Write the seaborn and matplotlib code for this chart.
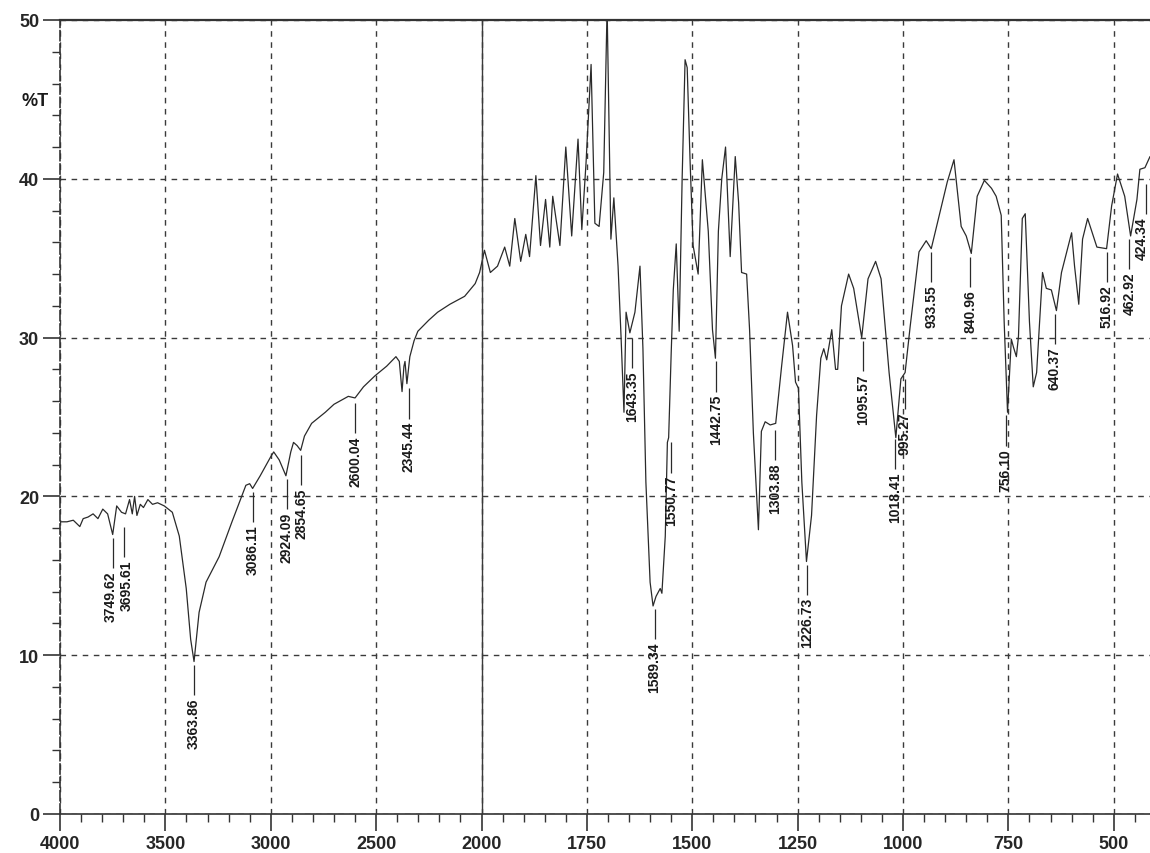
import numpy as np
import pandas as pd
import matplotlib
matplotlib.use("Agg")
import matplotlib.pyplot as plt
import seaborn as sns
from matplotlib import font_manager
from matplotlib.ticker import FixedLocator, MultipleLocator
from matplotlib.transforms import offset_copy

# IR spectrum, values
wavenumber = [4000, 3967, 3937, 3906, 3890, 3867, 3843, 3820, 3797, 3774,
              3750, 3731, 3708, 3689, 3670, 3657, 3646, 3635, 3619, 3604,
              3583, 3561, 3537, 3505, 3467, 3434, 3401, 3380, 3364, 3340,
              3307, 3245, 3184, 3118, 3100, 3086, 3050, 3000, 2986, 2960,
              2928, 2905, 2892, 2875, 2858, 2840, 2806, 2741, 2700, 2632,
              2600, 2560, 2505, 2450, 2406, 2390, 2377, 2368, 2363, 2354,
              2340, 2320, 2302, 2250, 2208, 2150, 2080, 2030, 2009, 1993,
              1979, 1962, 1945, 1933, 1921, 1907, 1895, 1886, 1871, 1860,
              1848, 1838, 1831, 1814, 1800, 1786, 1771, 1762, 1752, 1740,
              1731, 1721, 1710, 1702, 1693, 1686, 1676, 1669, 1662, 1657,
              1648, 1636, 1624, 1617, 1610, 1600, 1593, 1586, 1576, 1572,
              1564, 1559, 1556, 1550, 1545, 1538, 1531, 1524, 1517, 1512,
              1505, 1498, 1486, 1476, 1462, 1452, 1445, 1438, 1430, 1421,
              1410, 1398, 1390, 1383, 1371, 1364, 1355, 1343, 1336, 1327,
              1315, 1302, 1288, 1274, 1262, 1255, 1248, 1240, 1229, 1217,
              1205, 1195, 1188, 1181, 1169, 1160, 1155, 1146, 1129, 1117,
              1098, 1083, 1065, 1052, 1033, 1017, 1005, 995, 983, 962,
              945, 933, 914, 895, 879, 862, 850, 838, 824, 807,
              790, 779, 767, 760, 752, 743, 738, 731, 726, 717,
              710, 700, 691, 683, 669, 660, 648, 636, 624, 600,
              593, 583, 574, 562, 540, 517, 505, 491, 474, 460,
              445, 438, 426, 414]
transmittance = [18.4, 18.4, 18.5, 18.1, 18.6, 18.7, 18.9, 18.6, 19.2, 18.9,
                 17.6, 19.4, 19.0, 18.9, 19.8, 18.9, 20.0, 18.8, 19.5, 19.3,
                 19.8, 19.5, 19.6, 19.4, 19.0, 17.5, 14.2, 11.0, 9.6, 12.7,
                 14.6, 16.2, 18.4, 20.7, 20.8, 20.5, 21.3, 22.5, 22.8, 22.3,
                 21.3, 22.8, 23.4, 23.2, 22.9, 23.8, 24.6, 25.3, 25.8, 26.3,
                 26.2, 26.9, 27.6, 28.2, 28.8, 28.5, 26.6, 28.2, 28.5, 27.1,
                 28.8, 29.8, 30.4, 31.1, 31.6, 32.1, 32.6, 33.4, 34.1, 35.5,
                 34.1, 34.5, 35.7, 34.5, 37.5, 34.8, 36.5, 35.1, 40.2, 35.8,
                 38.7, 35.7, 38.9, 35.8, 42.0, 36.4, 42.5, 36.8, 41.0, 47.2,
                 37.2, 37.0, 40.4, 50.8, 36.2, 38.8, 34.5, 30.1, 25.3, 31.6,
                 30.3, 31.6, 34.5, 29.3, 20.9, 14.6, 13.1, 13.7, 14.2, 13.9,
                 17.5, 23.4, 23.7, 29.0, 33.0, 35.9, 30.4, 40.0, 47.5, 47.0,
                 41.0, 35.8, 34.0, 41.2, 36.7, 30.5, 28.7, 36.7, 40.0, 42.0,
                 35.1, 41.4, 38.5, 34.1, 34.0, 30.5, 24.0, 17.9, 24.1, 24.7,
                 24.5, 24.6, 28.2, 31.6, 29.5, 27.2, 26.8, 20.9, 15.9, 18.8,
                 25.1, 28.7, 29.3, 28.6, 30.5, 28.0, 28.0, 32.0, 34.0, 33.1,
                 30.0, 33.7, 34.8, 33.7, 27.8, 23.7, 27.4, 27.8, 30.7, 35.4,
                 36.1, 35.6, 37.7, 39.8, 41.2, 37.0, 36.4, 35.3, 38.9, 39.9,
                 39.4, 38.9, 37.7, 31.0, 25.3, 29.9, 29.4, 28.8, 30.1, 37.5,
                 37.8, 31.0, 26.9, 27.8, 34.1, 33.1, 33.0, 31.7, 34.1, 36.6,
                 34.5, 32.1, 36.2, 37.5, 35.7, 35.6, 38.3, 40.3, 38.9, 36.4,
                 38.7, 40.6, 40.7, 41.4]

peak_labels = ["3749.62", "3695.61", "3363.86", "3086.11", "2924.09", "2854.65",
               "2600.04", "2345.44", "1643.35", "1589.34", "1550.77", "1442.75",
               "1303.88", "1226.73", "1095.57", "1018.41", "995.27", "933.55",
               "840.96", "756.10", "640.37", "516.92", "462.92", "424.34"]
peak_T = [17.6, 18.3, 9.6, 20.5, 21.3, 22.8, 26.1, 27.0, 30.2, 13.1, 23.6, 28.7,
          24.4, 15.9, 30.0, 23.8, 27.6, 35.6, 35.3, 25.3, 31.7, 35.6, 36.4, 39.9]

x_major = [4000, 3500, 3000, 2500, 2000, 1750, 1500, 1250, 1000, 750, 500]

df = pd.DataFrame({"wn": wavenumber, "T": transmittance})

sns.set_theme(style="white")
names = {f.name for f in font_manager.fontManager.ttflist}
if "Liberation Sans Narrow" in names:
    family, tick_size, peak_size = "Liberation Sans Narrow", 15, 11
else:
    family, tick_size, peak_size = "Liberation Sans", 13, 10
plt.rcParams["font.family"] = [family, "DejaVu Sans"]
plt.rcParams["font.weight"] = "bold"


# chart scale doubles below 2000 cm-1
def forward(x):
    x = np.asarray(x, dtype=float)
    return np.where(x >= 2000, x, 2 * x - 2000)


def inverse(u):
    u = np.asarray(u, dtype=float)
    return np.where(u >= 2000, u, (u + 2000) / 2)


fig = plt.figure(figsize=(11.5, 8.54), dpi=100)
ax = fig.add_axes([60 / 1150, 39 / 854, 1090 / 1150, 794 / 854])

sns.lineplot(data=df, x="wn", y="T", ax=ax, color="#2a2a2a", lw=0.9,
             sort=False, estimator=None)

ax.set_xscale("function", functions=(forward, inverse))
ax.set_xlim(4000, 414)
ax.set_ylim(0, 50)
ax.set_xlabel("")
ax.set_ylabel("")

x_minor = [v for v in list(range(3900, 2000, -100)) + list(range(1950, 400, -50))
           if v not in x_major]
ax.set_xticks(x_major, labels=[str(v) for v in x_major])
ax.xaxis.set_minor_locator(FixedLocator(x_minor))
ax.yaxis.set_major_locator(MultipleLocator(10))
ax.yaxis.set_minor_locator(MultipleLocator(2))

ax.tick_params(which="major", direction="out", length=12, width=1.2,
               color="#333333", labelsize=tick_size, pad=3, bottom=True, left=True)
ax.tick_params(which="minor", direction="out", length=6, width=1.0,
               color="#333333", bottom=True, left=True)

ax.grid(True, which="major", ls=(0, (4, 4)), color="#3a3a3a", lw=1.0)
ax.axvline(2000, color="#3a3a3a", lw=1.0)

for side in ["top", "bottom", "left"]:
    ax.spines[side].set_color("#333333")
ax.spines["top"].set_linewidth(1.6)
ax.spines["bottom"].set_linewidth(1.2)
ax.spines["left"].set_linewidth(1.2)
ax.spines["left"].set_linestyle((0, (6, 2)))
ax.spines["right"].set_visible(False)

# peak annotations (a few labels nudged sideways so they do not collide)
nudge = {"3749.62": -1.2, "3695.61": 1.8, "424.34": -2.5}
for lab, t in zip(peak_labels, peak_T):
    w = float(lab)
    ax.vlines(w, t - 2.1, t - 0.2, color="#2a2a2a", lw=0.9)
    tr = offset_copy(ax.transData, fig=fig, x=nudge.get(lab, 0), y=0, units="points")
    ax.text(w, t - 2.25, lab, rotation=90, ha="center", va="top", transform=tr,
            fontsize=peak_size, fontweight="bold", color="#1a1a1a")

fig.text(35 / 1150, 1 - 102 / 854, "%T", ha="center", va="center",
         fontsize=tick_size, fontweight="bold", color="#1a1a1a")

fig.savefig("out.png", dpi=100, facecolor="white")
